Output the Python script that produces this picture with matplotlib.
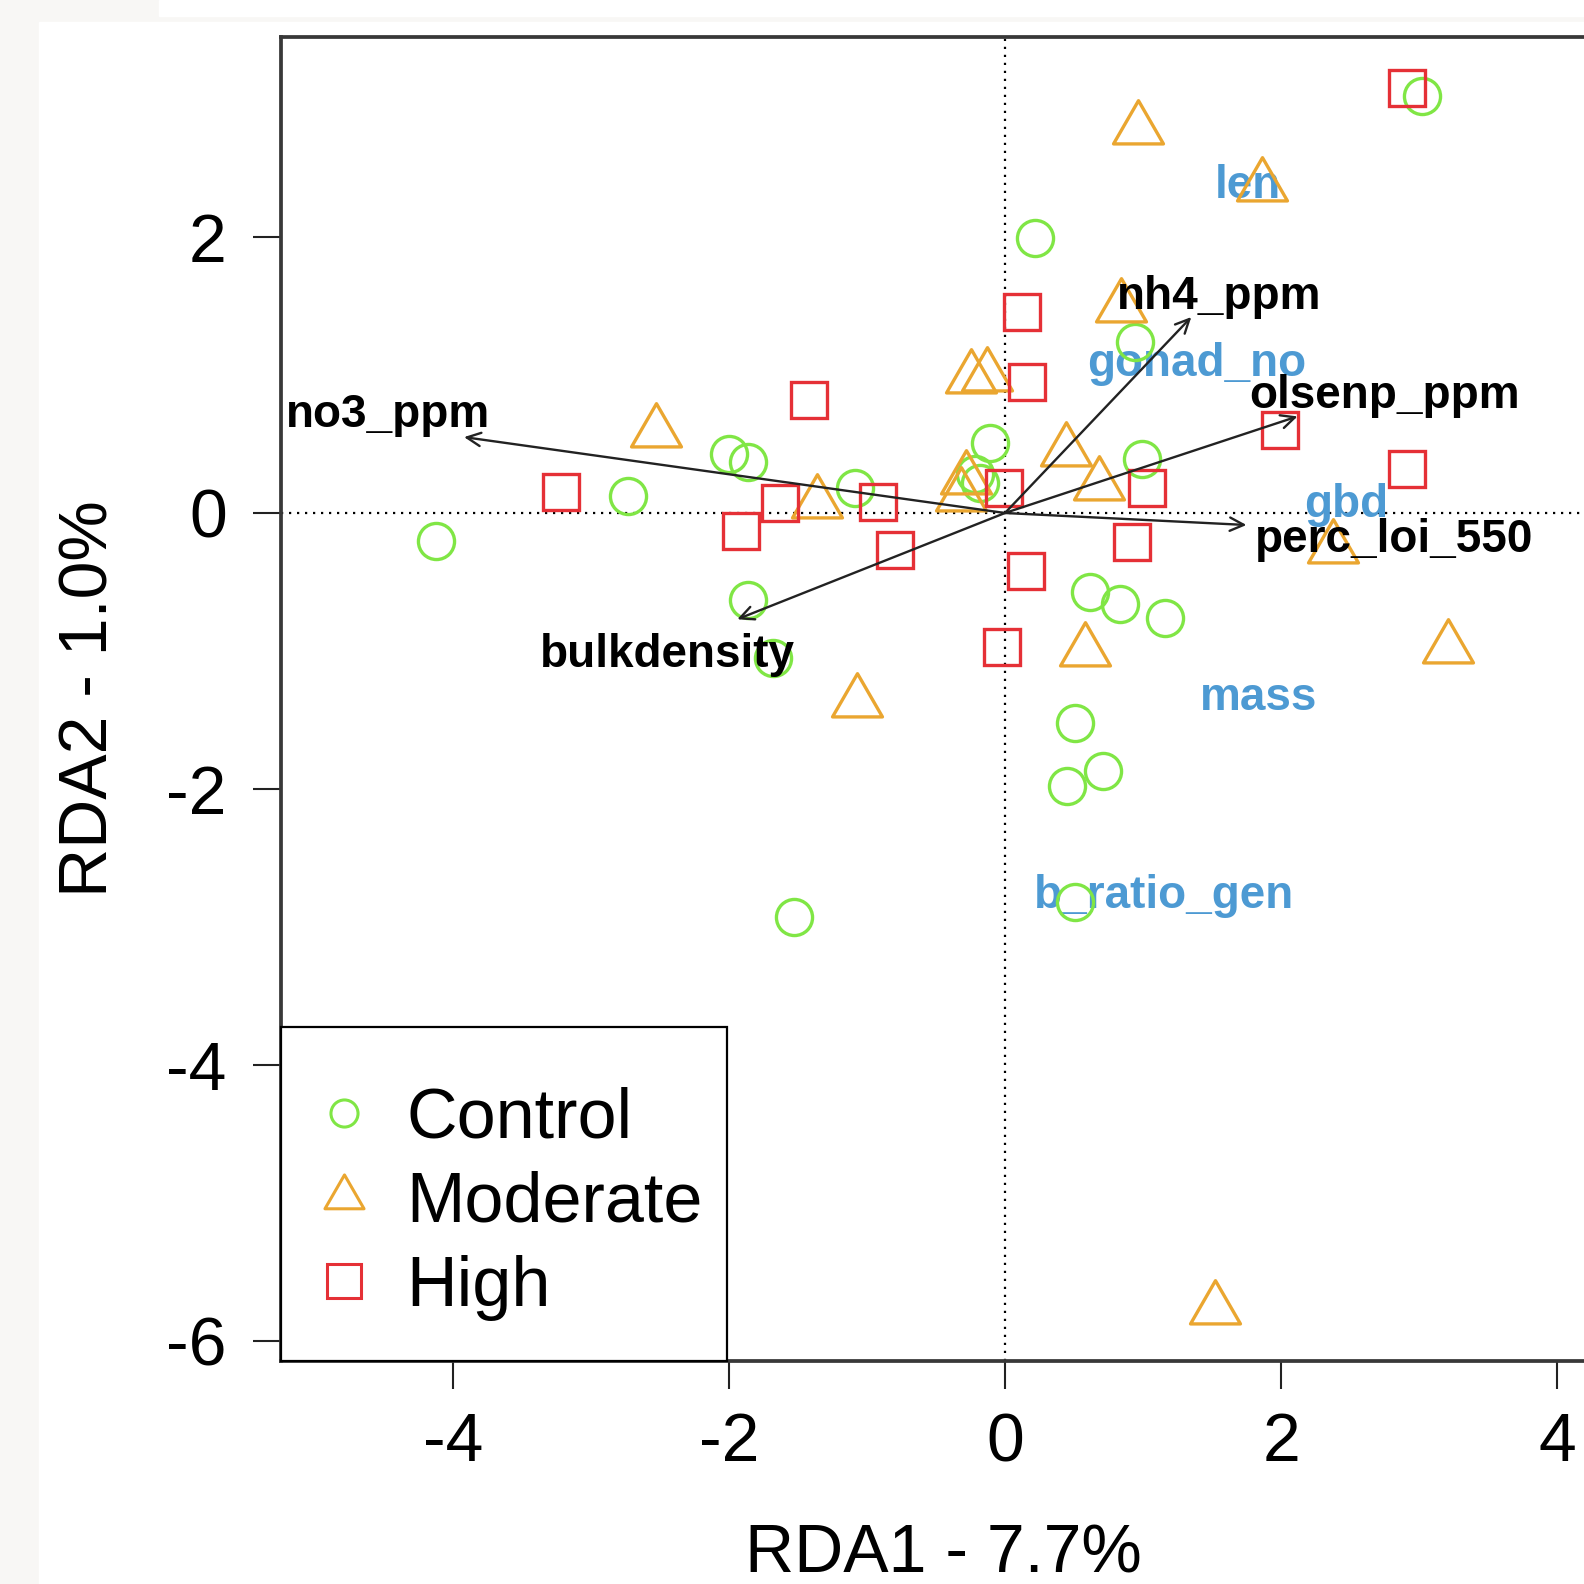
import matplotlib.pyplot as plt
from matplotlib.lines import Line2D
from matplotlib.patches import Rectangle
from matplotlib.path import Path

plt.rcParams['font.family'] = ['Liberation Sans', 'DejaVu Sans']
plt.rcParams['axes.unicode_minus'] = False

# site scores (RDA1, RDA2) per treatment
control_x = [3.02, 0.22, 0.94, -0.11, -0.22, -0.18, 0.99, -2.00, -1.86, -1.09, -2.73,
             -4.12, -1.86, -1.68, 0.615, 0.83, 1.16, 0.51, 0.71, 0.45, 0.51, -1.53]
control_y = [3.02, 1.99, 1.24, 0.505, 0.28, 0.22, 0.39, 0.43, 0.37, 0.18, 0.12,
             -0.20, -0.63, -1.05, -0.57, -0.66, -0.76, -1.52, -1.87, -1.98, -2.82, -2.93]
moderate_x = [0.965, 1.86, 0.84, -0.25, -0.13, -2.53, 0.44, 0.68, -0.28, -0.32, -1.36,
              2.38, 3.21, 0.58, -1.07, 1.52]
moderate_y = [2.78, 2.37, 1.49, 0.98, 0.99, 0.59, 0.45, 0.20, 0.25, 0.12, 0.07,
              -0.25, -0.98, -1.00, -1.37, -5.77]
high_x = [2.91, 0.12, 0.16, -1.42, 1.99, 2.91, -3.22, -1.63, -0.92, -1.91, -0.80,
          -0.01, 1.03, 0.92, 0.15, -0.02]
high_y = [3.08, 1.46, 0.95, 0.82, 0.60, 0.32, 0.15, 0.07, 0.08, -0.13, -0.27,
          0.18, 0.18, -0.21, -0.42, -0.97]

# environmental variables (arrows)
env_names = ['no3_ppm', 'bulkdensity', 'nh4_ppm', 'olsenp_ppm', 'perc_loi_550']
env_x = [-3.92, -1.94, 1.35, 2.12, 1.75]
env_y = [0.55, -0.77, 1.42, 0.70, -0.087]
env_lab_x = [-4.47, -2.444, 1.55, 2.75, 2.82]
env_lab_y = [0.625, -1.115, 1.475, 0.76, -0.285]

# response variables (blue labels)
sp_names = ['len', 'gonad_no', 'gbd', 'mass', 'b_ratio_gen']
sp_x = [1.76, 1.39, 2.47, 1.84, 1.15]
sp_y = [2.28, 0.99, -0.03, -1.43, -2.865]

groups = ['Control', 'Moderate', 'High']
col_control = '#80e645'
col_moderate = '#eaa630'
col_high = '#e53036'
col_sp = '#4d9ad3'

# R style pch=2 triangle (centred on its centroid)
tri = Path([(0, 1.555), (1.347, -0.778), (-1.347, -0.778), (0, 1.555)], closed=True)

W = 1584
fig = plt.figure(figsize=(W / 100, W / 100), dpi=100, facecolor='#f8f7f5')
fig.patches.append(Rectangle((39 / W, 0), 1, (W - 22) / W, transform=fig.transFigure,
                             color='white', zorder=-10))
fig.patches.append(Rectangle((159 / W, (W - 16) / W), 1, 16 / W, transform=fig.transFigure,
                             color='white', zorder=-10))

ax = fig.add_axes([281 / W, 223 / W, 1324 / W, 1324 / W])
ax.set_zorder(1)
u = 138.0
ax.set_xlim(-(1005 - 281) / u, (1605 - 1005) / u)
ax.set_ylim(-(1361 - 513) / u, (513 - 37) / u)

ax.axhline(0, color='black', lw=1.6, ls=(0, (1.0, 2.6)), zorder=1)
ax.axvline(0, color='black', lw=1.6, ls=(0, (1.0, 2.6)), zorder=1)

for i in range(len(sp_names)):
    ax.text(sp_x[i], sp_y[i], sp_names[i], ha='center', va='baseline', fontsize=33,
            fontweight='bold', color=col_sp, zorder=2)

ax.plot(control_x, control_y, ls='none', marker='o', ms=26, mfc='none', mec=col_control, mew=2.4, zorder=3)
ax.plot(moderate_x, moderate_y, ls='none', marker=tri, ms=41.5, mfc='none', mec=col_moderate, mew=2.4, zorder=3)
ax.plot(high_x, high_y, ls='none', marker='s', ms=26.5, mfc='none', mec=col_high, mew=2.4, zorder=3)

for i in range(len(env_names)):
    ax.annotate('', xy=(env_x[i], env_y[i]), xytext=(0, 0),
                arrowprops=dict(arrowstyle='->,head_length=0.5,head_width=0.24', color='#222222',
                                lw=1.7, shrinkA=0, shrinkB=0, mutation_scale=20), zorder=4)
    ax.text(env_lab_x[i], env_lab_y[i], env_names[i], ha='center', va='baseline', fontsize=33,
            fontweight='bold', color='black', zorder=5)

ax.set_xticks([-4, -2, 0, 2, 4])
ax.set_yticks([-6, -4, -2, 0, 2])
ax.tick_params(axis='both', length=20, width=1.5, color='#222222', labelsize=49)
ax.tick_params(axis='x', pad=16)
ax.tick_params(axis='y', pad=19)
for s in ax.spines.values():
    s.set_linewidth(2.7)
    s.set_color('#383838')

ax.set_xlabel('RDA1 - 7.7%', fontsize=49, va='baseline')
ax.xaxis.set_label_coords(0.5, -0.160)
ax.set_ylabel('RDA2 - 1.0%', fontsize=49, va='baseline')
ax.yaxis.set_label_coords(-0.1307, 0.5)

handles = [
    Line2D([], [], ls='none', marker='o', ms=19.5, mfc='none', mec=col_control, mew=2.2),
    Line2D([], [], ls='none', marker=tri, ms=32.5, mfc='none', mec=col_moderate, mew=2.2),
    Line2D([], [], ls='none', marker='s', ms=24, mfc='none', mec=col_high, mew=2.2),
]
# a tiny blank title pushes the entries down inside the box, as in R
leg = ax.legend(handles, groups, loc='lower left', bbox_to_anchor=(0, 0, 0.337, 0.25),
                mode='expand', borderaxespad=0, fontsize=50.5, fancybox=False, framealpha=1,
                edgecolor='black', borderpad=0.57, handlelength=0.66, handletextpad=0.56,
                labelspacing=0.26, title=' ', title_fontsize=1)
leg.get_frame().set_linewidth(1.6)

fig.savefig('out.png', dpi=100, facecolor=fig.get_facecolor())
